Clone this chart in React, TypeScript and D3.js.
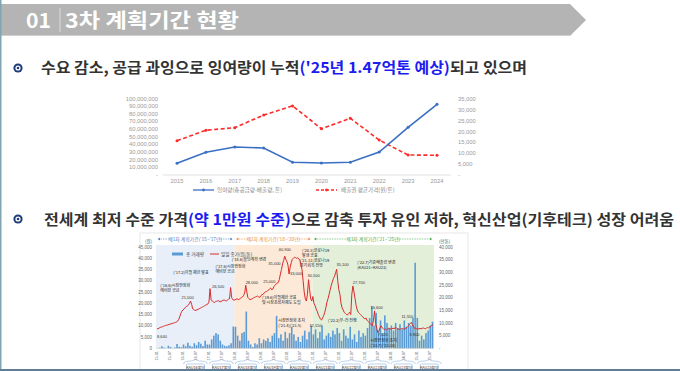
import React from 'react';
import * as d3 from 'd3';

// ---------- Chart 1 data ----------
const years = [2015, 2016, 2017, 2018, 2019, 2020, 2021, 2022, 2023, 2024];
const surplus = [15300000, 29700000, 36600000, 35300000, 16600000, 15700000, 16600000, 30000000, 62300000, 92400000];
const avgPrice = [15800, 20600, 21800, 27600, 31800, 21300, 26100, 16100, 9200, 9100];
const leftTicks1 = [0, 10000000, 20000000, 30000000, 40000000, 50000000, 60000000, 70000000, 80000000, 90000000, 100000000];
const rightTicks1 = [0, 5000, 10000, 15000, 20000, 25000, 30000, 35000];

// ---------- Chart 2 data ----------
// closing price, two readings per month, Jan 2015 .. Aug 2025
const closePrice = [
  8640, 8700, 9000, 9300, 9400, 9600, 9800, 10000, 10100, 10300, 10400, 10600, 10700, 10900, 11000, 11200, 11300, 11500, 11700, 12000, 12800, 14000, 15500, 16500,
  17000, 17500, 18000, 18600, 18800, 19200, 20000, 21000, 19500, 17500, 17200, 16800, 16900, 17100, 17300, 17600, 17800, 18100, 18300, 18600, 18900, 19200, 19400, 19700,
  20500, 26500, 21500, 21000, 20600, 20400, 20700, 20900, 21000, 21200, 20600, 20800, 21000, 21300, 21500, 21200, 21000, 21400, 21800, 22000, 27000, 22500, 21600, 21400,
  21500, 21800, 22000, 21600, 21800, 22200, 22500, 22800, 23500, 24500, 28000, 25000, 22500, 22000, 21600, 21800, 22000, 22400, 22600, 22800, 23000, 23200, 22800, 22600,
  23400, 23800, 24000, 24600, 25000, 25200, 25500, 25800, 26400, 26800, 26000, 26300, 27400, 28000, 28500, 29000, 29200, 30500, 33000, 35000, 37500, 39000, 40900, 39500,
  38500, 37000, 33000, 36000, 38000, 39500, 40000, 40500, 40300, 40000, 40200, 39800, 39000, 37000, 35000, 30000, 25000, 22000, 21000, 24000, 30500, 26000, 22000, 21000,
  23000, 20000, 19000, 17500, 16500, 15000, 14000, 13000, 12550, 13500, 14500, 16000, 18000, 20500, 22000, 24000, 26000, 28000, 29500, 31000, 32000, 33500, 35100, 30000,
  26000, 24000, 20000, 18000, 17000, 16000, 15500, 15000, 14800, 15500, 16000, 15000, 24000, 27700, 25000, 22000, 19000, 17000, 16000, 15500, 15000, 14500, 14000, 13500,
  13000, 13500, 12500, 12000, 11500, 11000, 10500, 10000, 12500, 16600, 11000, 9000, 7020, 7500, 9000, 10000, 9200, 8800, 8300, 8600, 8200, 8500, 8900, 8700,
  8500, 8700, 8900, 8800, 9000, 9200, 8700, 8500, 8400, 8600, 8700, 8800, 8500, 8700, 9000, 9300, 9800, 10500, 11000, 11550, 10500, 9500, 8800, 9000,
  8600, 8500, 8700, 8800, 8600, 8900, 9000, 8800, 8700, 9000, 9200, 9100, 9500, 9800, 10200, 10500,
];
// monthly trading volume (right axis)
const tradeVolume = [
  0, 200, 800, 300, 0, 1000, 500, 0, 300, 1700, 600, 400,
  1500, 800, 2200, 1000, 600, 2000, 1200, 2500, 1800, 900, 3000, 1500,
  1500, 3500, 5000, 6000, 5500, 3000, 1500, 1000, 800, 1200, 2000, 8600,
  8500, 5000, 3000, 6000, 6500, 14500, 3000, 1500, 500, 2000, 1500, 4000,
  2000, 3500, 3000, 4000, 2500, 5000, 6000, 12800, 4000, 5500, 3000, 6500,
  4000, 6000, 8500, 5500, 3000, 4500, 2500, 5000, 7000, 3500, 6500, 9000,
  5500, 7500, 4000, 6500, 9000, 3500, 5000, 6000, 4500, 7000, 5500, 8000,
  6000, 3000, 7500, 5000, 4000, 8500, 3500, 5500, 2500, 7000, 4500, 6000,
  5000, 8000, 12000, 16600, 9000, 14000, 7000, 11000, 6000, 13000, 10000, 8000,
  9000, 7000, 10000, 8000, 9500, 7500, 11000, 8500, 10000, 9000, 12000, 33800,
  12000, 3000, 5000, 3500, 6000, 7000, 9000, 10500,
];
const priceTicks = [0, 5000, 10000, 15000, 20000, 25000, 30000, 35000, 40000, 45000];
const volumeTicks = [0, 5000, 10000, 15000, 20000, 25000, 30000, 35000, 40000];
const kauLabels = ['KAU16할당', 'KAU17할당', 'KAU18할당', 'KAU19할당', 'KAU20할당', 'KAU21할당', 'KAU22할당', 'KAU23할당', 'KAU24할당', 'KAU25할당'];
const periodNames = ["제1차 계획기간('15~'17년)", "제2차 계획기간('18~'20년)", "제3차 계획기간('21~'25년)"];
const periodColors = ['#4a7cc4', '#e9853a', '#44a84a'];
const bandColors = ['#e8eff9', '#fce9d8', '#e3efd9'];
const valueLabels = [
  { i: 0, text: '8,640', dy: 9, dx: 5 },
  { i: 31, text: '21,000', dy: -2, dx: -3 },
  { i: 49, text: '26,500', dy: -1, dx: 8 },
  { i: 82, text: '28,000', dy: -1, dx: 6 },
  { i: 102, text: '25,000', dy: -8, dx: 2 },
  { i: 115, text: '35,000', dy: -5, dx: -7 },
  { i: 118, text: '40,900', dy: -5, dx: 0 },
  { i: 122, text: '33,000', dy: 1, dx: 7 },
  { i: 140, text: '30,500', dy: -3, dx: 5 },
  { i: 152, text: '12,550', dy: 7, dx: -6 },
  { i: 166, text: '35,100', dy: -3, dx: 6 },
  { i: 181, text: '27,700', dy: -2, dx: 6 },
  { i: 201, text: '16,600', dy: -2, dx: 2 },
  { i: 204, text: '7,020', dy: 4, dx: 5 },
  { i: 235, text: '11,550', dy: -4, dx: -4 },
  { i: 238, text: '8,800', dy: 8, dx: 0 },
];
const events = [
  { h: 3, v: 27300, lines: ["('16.6)시장안정화", '예비분 공급'] },
  { h: 15, v: 32800, lines: ["('17.2)이월 제한 발표"] },
  { h: 54, v: 35800, lines: ["('17.6)시장안정화", '예비분 공급'] },
  { h: 69, v: 38600, lines: ["('18.6)할당계획 변경"] },
  { h: 97, v: 22000, lines: ["('19.6)이월제한 공표", '및 시장조성자제도 도입'] },
  { h: 134, v: 42600, lines: ["('20.3)코로나19", '발생 공표'] },
  { h: 112, v: 11700, lines: ['시장안정화 조치', "('21.4)('21.5)"] },
  { h: 132, v: 38200, lines: ["('21.11)코로나19", '경기회복 전망'] },
  { h: 158, v: 11700, lines: ["('22.2)우-러 전쟁"] },
  { h: 185, v: 37300, lines: ["('22.7)기준배출량 변경", '(KAU21~KAU23)'] },
  { h: 197, v: 2600, lines: ['시장안정화 조치', "('23.7)('23.10)"] },
];

const KR = "'Noto Sans CJK KR', 'Noto Sans', sans-serif";
const NUM = "'Liberation Sans', Arial, sans-serif";

function Bullet({ x, y }: { x: number; y: number }) {
  return (
    <g>
      <circle cx={x} cy={y} r={4.6} fill="#203c78" />
      <circle cx={x} cy={y} r={2.6} fill="#ffffff" />
      <circle cx={x} cy={y} r={1.3} fill="#203c78" />
    </g>
  );
}

function Chart1() {
  const x = d3.scaleLinear().domain([2015, 2024]).range([177, 437]);
  const yL = d3.scaleLinear().domain([0, 100000000]).range([175, 98.5]);
  const yR = d3.scaleLinear().domain([0, 35000]).range([175, 99]);
  const fmt = d3.format(',');
  const blueLine = d3.line<number>().x((_, i) => x(years[i])).y((d) => yL(d));
  const redLine = d3.line<number>().x((_, i) => x(years[i])).y((d) => yR(d));
  return (
    <g>
      {leftTicks1.map((t) => (
        <text key={'l' + t} x={158} y={yL(t) + 2} fontSize={5.8} fill="#9a9a9a" textAnchor="end" fontFamily={NUM}>
          {t === 0 ? '-' : fmt(t)}
        </text>
      ))}
      {rightTicks1.map((t) => (
        <text key={'r' + t} x={458} y={yR(t) + 2} fontSize={5.8} fill="#9a9a9a" fontFamily={NUM}>
          {t === 0 ? '-' : fmt(t)}
        </text>
      ))}
      <line x1={163} x2={451} y1={175} y2={175} stroke="#d9d9d9" strokeWidth={0.8} />
      {years.map((yr) => (
        <text key={yr} x={x(yr)} y={183} fontSize={5.8} fill="#9a9a9a" textAnchor="middle" fontFamily={NUM}>
          {yr}
        </text>
      ))}
      <path d={redLine(avgPrice) || ''} fill="none" stroke="#ff2a2a" strokeWidth={1.6} strokeDasharray="4,2.5" />
      {avgPrice.map((v, i) => (
        <circle key={'rp' + i} cx={x(years[i])} cy={yR(v)} r={1.5} fill="#ff2a2a" />
      ))}
      <path d={blueLine(surplus) || ''} fill="none" stroke="#3a70c4" strokeWidth={1.6} />
      {surplus.map((v, i) => (
        <circle key={'bp' + i} cx={x(years[i])} cy={yL(v)} r={1.5} fill="#3a70c4" />
      ))}
      <line x1={193} x2={214} y1={190} y2={190} stroke="#3a70c4" strokeWidth={1.3} />
      <circle cx={203.5} cy={190} r={1.4} fill="#3a70c4" />
      <text x={217} y={192} fontSize={5.6} fill="#8a8a8a" fontFamily={KR}>잉여량(총공급량-배출량, 톤)</text>
      <line x1={316} x2={337} y1={190} y2={190} stroke="#ff2a2a" strokeWidth={1.3} strokeDasharray="3,2" />
      <circle cx={326.5} cy={190} r={1.4} fill="#ff2a2a" />
      <text x={341} y={192} fontSize={5.6} fill="#8a8a8a" fontFamily={KR}>배출권 평균가격(원/톤)</text>
    </g>
  );
}

function Chart2() {
  const n = closePrice.length;
  const x = d3.scaleLinear().domain([0, n - 1]).range([157, 433]);
  const yL = d3.scaleLinear().domain([0, 45000]).range([348.3, 247]);
  const yR = d3.scaleLinear().domain([0, 40000]).range([348.3, 247]);
  const fmt = d3.format(',');
  const line = d3.line<number>().x((_, i) => x(i)).y((d) => yL(d));
  const top = 245;
  const bottom = 348.3;
  const bounds = [x(-1), x(71.5), x(143.5), 434];
  const tickIdx = d3.range(0, n, 12);
  return (
    <g>
      <rect x={140} y={233} width={328} height={140} fill="#ffffff" stroke="#e0e0e0" strokeWidth={0.8} />
      {bandColors.map((c, k) => (
        <rect key={c} x={bounds[k]} y={top} width={bounds[k + 1] - bounds[k]} height={bottom - top} fill={c} />
      ))}
      {periodNames.map((p, k) => {
        const cx = (bounds[k] + bounds[k + 1]) / 2;
        return (
          <g key={p}>
            <line x1={bounds[k] + 2} x2={bounds[k + 1] - 2} y1={239} y2={239} stroke={periodColors[k]} strokeWidth={0.6} strokeDasharray="1.5,1" />
            <rect x={cx - 24} y={235} width={48} height={8} fill="#ffffff" />
            <text x={cx} y={241} fontSize={4.8} fill={periodColors[k]} textAnchor="middle" fontFamily={KR}>{p}</text>
            <path d={`M${bounds[k] + 2},239 l2,-1.5 v3 z`} fill={periodColors[k]} />
            <path d={`M${bounds[k + 1] - 2},239 l-2,-1.5 v3 z`} fill={periodColors[k]} />
          </g>
        );
      })}
      <text x={145} y={243} fontSize={4.5} fill="#555" fontFamily={KR}>(원)</text>
      <text x={439} y={243} fontSize={4.5} fill="#555" fontFamily={KR}>(만톤)</text>
      {priceTicks.map((t) => (
        <text key={'pl' + t} x={152} y={yL(t) + 1.6} fontSize={4.5} fill="#666" textAnchor="end" fontFamily={NUM}>{fmt(t)}</text>
      ))}
      {volumeTicks.map((t) => (
        <text key={'vr' + t} x={439} y={yR(t) + 1.6} fontSize={4.5} fill="#666" fontFamily={NUM}>{t === 0 ? '-' : fmt(t)}</text>
      ))}
      {tradeVolume.map((v, i) => (
        <rect key={'b' + i} x={x(2 * i + 0.5) - 0.8} y={yR(v)} width={1.6} height={bottom - yR(v)} fill="#5b9bd5" />
      ))}
      <path d={line(closePrice) || ''} fill="none" stroke="#d92b2b" strokeWidth={1} strokeLinejoin="round" />
      <line x1={156} x2={434} y1={bottom} y2={bottom} stroke="#bbb" strokeWidth={0.5} />
      <rect x={172} y={252.5} width={11} height={3} fill="#5b9bd5" />
      <text x={186} y={256} fontSize={4.6} fill="#444" fontFamily={KR}>총 거래량</text>
      <line x1={210} x2={219} y1={254} y2={254} stroke="#d92b2b" strokeWidth={1} />
      <text x={221} y={256} fontSize={4.6} fill="#444" fontFamily={KR}>일일 종가(원/톤)</text>
      {valueLabels.map((l) => (
        <text key={l.text + l.i} x={x(l.i) + l.dx} y={yL(closePrice[l.i]) + l.dy} fontSize={4} fill="#333" textAnchor="middle" fontFamily={NUM}>{l.text}</text>
      ))}
      {events.map((e) => (
        <text key={e.lines[0]} x={x(e.h)} y={yL(e.v)} fontSize={4} fill="#222" fontFamily={KR}>
          {e.lines.map((ln, j) => (
            <tspan key={j} x={x(e.h)} dy={j === 0 ? 0 : 4.8}>{ln}</tspan>
          ))}
        </text>
      ))}
      {tickIdx.map((i) => (
        <text key={'xt' + i} transform={`translate(${x(i) + 1.2},351) rotate(-90)`} fontSize={3.8} fill="#666" textAnchor="end" fontFamily={NUM}>
          {`${15 + Math.floor(i / 24)}.${String(Math.floor((i % 24) / 2) + 1).padStart(2, '0')}`}
        </text>
      ))}
      {kauLabels.map((k, j) => {
        const cx = x(24 * (j + 1) + 11.5);
        return (
          <g key={k}>
            <path d={`M${cx - 12},364 Q${cx - 12},361 ${cx - 4},361 L${cx},359.5 L${cx + 4},361 Q${cx + 12},361 ${cx + 12},364`} fill="none" stroke="#8fb4dc" strokeWidth={0.6} />
            <rect x={cx - 9} y={364} width={18} height={6} rx={1} fill="#ffffff" stroke="#8fb4dc" strokeWidth={0.6} />
            <text x={cx} y={368.6} fontSize={3.8} fill="#333" textAnchor="middle" fontFamily={KR}>{k}</text>
          </g>
        );
      })}
    </g>
  );
}

export default function App() {
  return (
    <svg width={680} height={371} style={{ position: 'absolute', left: 0, top: 0, background: '#ffffff' }}>
      <rect x={0} y={0} width={680} height={371} fill="#ffffff" />
      <polygon points="0,4 570,4 586,20 570,36 0,36" fill="#b4b4b4" />
      <line x1={0} x2={570} y1={35.5} y2={35.5} stroke="#d0d0d0" strokeWidth={1} />
      <text x={26} y={28} fontSize={20} fill="#ffffff" fontWeight={700} fontFamily={KR} textLength={25} lengthAdjust="spacingAndGlyphs">01</text>
      <line x1={60} x2={60} y1={8} y2={32} stroke="#e6e6e6" strokeWidth={0.8} />
      <text x={65} y={28} fontSize={20} fill="#ffffff" fontWeight={700} fontFamily={KR} textLength={174} lengthAdjust="spacingAndGlyphs">3차 계획기간 현황</text>
      <Bullet x={18} y={68} />
      <text x={41} y={73} fontSize={15} fontWeight={700} fill="#333333" fontFamily={KR} textLength={486} lengthAdjust="spacingAndGlyphs">
        수요 감소, 공급 과잉으로 잉여량이 누적<tspan fill="#1c1cf0">('25년 1.47억톤 예상)</tspan>되고 있으며
      </text>
      <Chart1 />
      <Bullet x={18} y={219} />
      <text x={44} y={224.5} fontSize={15} fontWeight={700} fill="#333333" fontFamily={KR} textLength={630} lengthAdjust="spacingAndGlyphs">
        전세계 최저 수준 가격<tspan fill="#1c1cf0">(약 1만원 수준)</tspan>으로 감축 투자 유인 저하, 혁신산업(기후테크) 성장 어려움
      </text>
      <Chart2 />
      <line x1={0.75} x2={0.75} y1={0} y2={371} stroke="#7fa6b0" strokeWidth={1.5} />
      <line x1={0} x2={680} y1={370} y2={370} stroke="#5d7d98" strokeWidth={2} />
    </svg>
  );
}
